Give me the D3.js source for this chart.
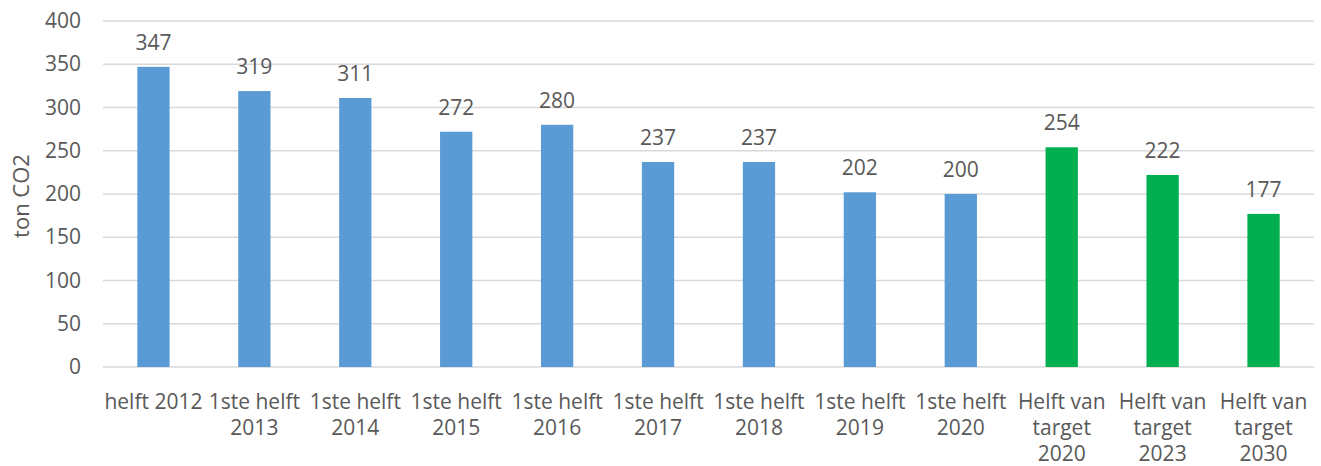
<!DOCTYPE html>
<html>
<head>
<meta charset="utf-8">
<script src="https://cdn.jsdelivr.net/npm/d3@7"></script>
<style>
  body { margin: 0; background: #fff; }
  text { font-family: "Open Sans", "Noto Sans", sans-serif; fill: #595959; }
</style>
</head>
<body>
<svg id="chart" width="1321" height="466"></svg>
<script>
// categories, one sub-array per label line
var categories = [
  ["helft 2012"],
  ["1ste helft", "2013"],
  ["1ste helft", "2014"],
  ["1ste helft", "2015"],
  ["1ste helft", "2016"],
  ["1ste helft", "2017"],
  ["1ste helft", "2018"],
  ["1ste helft", "2019"],
  ["1ste helft", "2020"],
  ["Helft van", "target", "2020"],
  ["Helft van", "target", "2023"],
  ["Helft van", "target", "2030"]
];
var values = [347, 319, 311, 272, 280, 237, 237, 202, 200, 254, 222, 177];
var isTarget = [false, false, false, false, false, false, false, false, false, true, true, true];
var yTicks = [0, 50, 100, 150, 200, 250, 300, 350, 400];

var svg = d3.select("#chart"),
    margin = {top: 21, right: 7, bottom: 99, left: 103},
    width = 1321 - margin.left - margin.right,
    height = 466 - margin.top - margin.bottom;

var g = svg.append("g").attr("transform", "translate(" + margin.left + "," + margin.top + ")");

var x = d3.scaleBand().domain(d3.range(values.length)).range([0, width]).paddingInner(0.68).paddingOuter(0.34);
var y = d3.scaleLinear().domain([0, 400]).range([height, 0]);

// gridlines
g.selectAll(".grid").data(yTicks).enter().append("line")
  .attr("x1", 0).attr("x2", width)
  .attr("y1", function(d) { return y(d); })
  .attr("y2", function(d) { return y(d); })
  .attr("stroke", "#d9d9d9").attr("stroke-width", 1.3);

// y tick labels
var yAxis = g.append("g").call(d3.axisLeft(y).tickValues(yTicks).tickSize(0).tickPadding(22));
yAxis.select(".domain").remove();
yAxis.selectAll("text").style("font-size", "21px").attr("fill", "#595959")
  .attr("font-family", "'Open Sans', sans-serif");

svg.append("text")
  .attr("transform", "translate(29," + (margin.top + height / 2 + 2) + ") rotate(-90)")
  .attr("text-anchor", "middle")
  .style("font-size", "22px")
  .text("ton CO2");

// bars
g.selectAll(".bar").data(values).enter().append("rect")
  .attr("x", function(d, i) { return x(i); })
  .attr("y", function(d) { return y(d); })
  .attr("width", x.bandwidth())
  .attr("height", function(d) { return height - y(d); })
  .attr("fill", function(d, i) { return isTarget[i] ? "#00b050" : "#5b9bd5"; });

// value labels
g.selectAll(".val").data(values).enter().append("text")
  .attr("x", function(d, i) { return x(i) + x.bandwidth() / 2; })
  .attr("y", function(d) { return y(d) - 17; })
  .attr("text-anchor", "middle")
  .style("font-size", "21px")
  .text(function(d) { return d; });

// category labels
var cat = g.selectAll(".cat").data(categories).enter().append("text")
  .attr("x", function(d, i) { return x(i) + x.bandwidth() / 2; })
  .attr("y", height + 42)
  .attr("text-anchor", "middle")
  .style("font-size", "21px");
cat.selectAll("tspan").data(function(d) { return d; }).enter().append("tspan")
  .attr("x", function() { return d3.select(this.parentNode).attr("x"); })
  .attr("dy", function(d, i) { return i === 0 ? 0 : 26; })
  .text(function(d) { return d; });
</script>
</body>
</html>
